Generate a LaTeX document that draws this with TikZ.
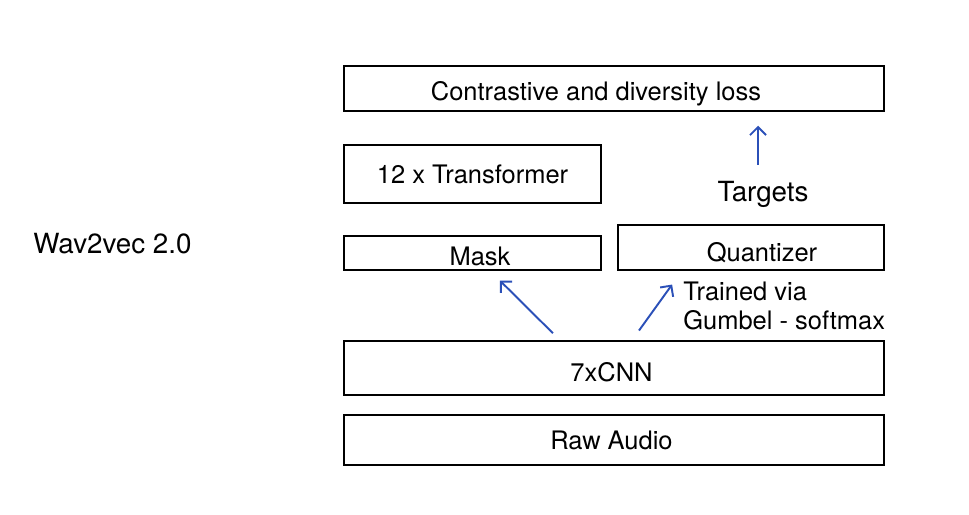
\documentclass[tikz,border=0pt]{standalone}
\usepackage{fontspec}
\setmainfont{TeX Gyre Heros}
\usetikzlibrary{arrows.meta,positioning}
\definecolor{arrBlue}{HTML}{2B50B8}
\newcommand{\lowered}[2]{\raisebox{-#1}[\height][\depth]{#2}}
\tikzset{
  font=\fontsize{14.5}{16.6}\selectfont,
  box/.style ={draw, line width=0.85pt, inner sep=0pt, align=center},
  wide/.style={box, minimum width=10.8cm},
  arr/.style ={-{Straight Barb[length=1.6mm, width=3.2mm]}, line width=1.1pt, draw=arrBlue},
  note/.style={inner sep=0pt, align=left},
  big/.style ={note, font=\fontsize{15.8}{18}\selectfont},
}
\begin{document}
\begin{tikzpicture}[x=0.02cm, y=-0.02cm]
  \useasboundingbox (0,0) rectangle (969,514);

  \node[wide, minimum height=0.9cm]               (loss)  at (614,88.5)  {\lowered{0.1cm}{Contrastive and diversity loss}\hspace{0.72cm}};
  \node[box, minimum width=5.14cm, minimum height=1.16cm] (trans) at (472.5,174) {12 x Transformer};
  \node[box, minimum width=5.14cm, minimum height=0.68cm] (mask)  at (472.5,253) {\hspace{0.3cm}\lowered{0.06cm}{Mask}};
  \node[box, minimum width=5.32cm, minimum height=0.9cm]  (quant) at (751,247.5) {\hspace{0.44cm}\lowered{0.1cm}{Quantizer}};
  \node[wide, minimum height=1.08cm]              (cnn)   at (614,368)   {\lowered{0.08cm}{7xCNN}\hspace{0.1cm}};
  \node[wide, minimum height=1.0cm]               (audio) at (614,440)   {Raw Audio\hspace{0.1cm}};

  \node[big]  (tgt)  at (763,194) {Targets};
  \node[note, anchor=west] (gum) at (683,306) {Trained via\\Gumbel - softmax};
  \node[big, anchor=west]  (w2v) at (33,244)  {Wav2vec 2.0};

  \draw[arr, shorten <=0.32cm, shorten >=0.28cm] ([xshift=-0.1cm]tgt.north) -- ([xshift=-0.1cm]tgt.north |- loss.south);
  \draw[arr, shorten <=0.2cm, shorten >=0.28cm]  ([xshift=-1.08cm]cnn.north) -- ([xshift=0.35cm]mask.south);
  \draw[arr, shorten <=0.24cm, shorten >=0.34cm] ([xshift=0.36cm]cnn.north) -- ([xshift=-1.38cm]quant.south);
\end{tikzpicture}
\end{document}
